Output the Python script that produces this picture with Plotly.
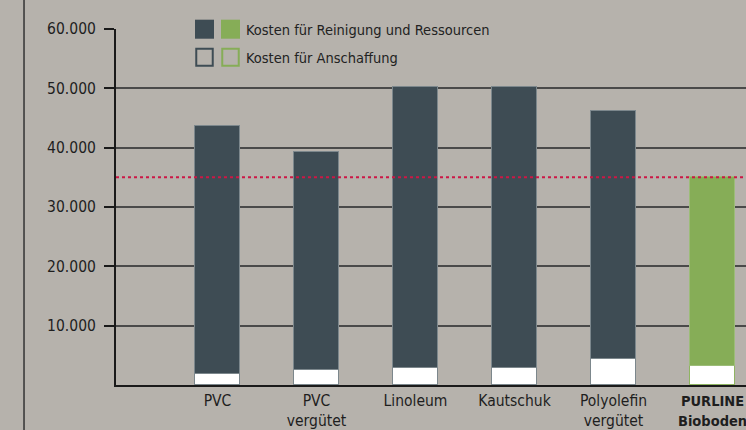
import plotly.graph_objects as go

categories = ["PVC", "PVC<br>vergütet", "Linoleum", "Kautschuk", "Polyolefin<br>vergütet",
              "<span style='font-size:14.5px'><b>PURLINE</b></span><br><span style='font-size:14.5px'><b>Bioboden</b></span>"]
anschaffung = [1900, 2500, 2850, 2900, 4300, 3250]
gesamt = [43700, 39300, 50300, 50300, 46100, 35000]
reinigung = [g - a for g, a in zip(gesamt, anschaffung)]
ytick_vals = [10000, 20000, 30000, 40000, 50000, 60000]
ytick_text = ["10.000", "20.000", "30.000", "40.000", "50.000", "60.000"]
grid_vals = [10000, 20000, 30000, 40000, 50000]
referenz = 35000

BG = "#b6b2ac"
DARK = "#3e4c54"
GREEN = "#86ad57"
FONT = "DejaVu Sans Condensed, Liberation Sans Narrow, sans-serif"

top_colors = [DARK] * 5 + [GREEN]
top_lines = ["#7c878c"] * 5 + ["#9cbc78"]
bot_lines = ["#7c878c"] * 5 + ["#8fb462"]

x = list(range(len(categories)))

fig = go.Figure()
fig.add_trace(go.Bar(
    x=x, y=anschaffung, width=0.46,
    marker=dict(color="white", line=dict(color=bot_lines, width=1.2)),
    showlegend=False,
))
fig.add_trace(go.Bar(
    x=x, y=reinigung, width=0.46,
    marker=dict(color=top_colors, line=dict(color=top_lines, width=1)),
    showlegend=False,
))

fig.add_shape(type="line", xref="paper", x0=0, x1=1, yref="y", y0=referenz, y1=referenz,
              line=dict(color="#cc1745", width=2, dash="dot"), layer="above")
# left page rule
fig.add_shape(type="line", xref="paper", x0=-0.146, x1=-0.146, yref="paper", y0=-0.13, y1=1.09,
              line=dict(color="#333333", width=1.5))

# legend swatches
lx0 = (195 - 116) / 630
sw = 19 / 630
gx0 = (221 - 116) / 630
def py(px):
    return (385 - px) / 355.7
fig.add_shape(type="rect", xref="paper", yref="paper", x0=lx0, x1=lx0 + sw, y0=py(39), y1=py(20),
              fillcolor=DARK, line=dict(width=0))
fig.add_shape(type="rect", xref="paper", yref="paper", x0=gx0, x1=gx0 + sw, y0=py(39), y1=py(20),
              fillcolor=GREEN, line=dict(width=0))
fig.add_shape(type="rect", xref="paper", yref="paper", x0=lx0 + 0.002, x1=lx0 + sw - 0.002, y0=py(66), y1=py(49),
              fillcolor=BG, line=dict(color=DARK, width=2))
fig.add_shape(type="rect", xref="paper", yref="paper", x0=gx0 + 0.002, x1=gx0 + sw - 0.002, y0=py(66), y1=py(49),
              fillcolor=BG, line=dict(color=GREEN, width=2))
fig.add_annotation(xref="paper", yref="paper", x=(244 - 116) / 630, y=py(30), text="Kosten für Reinigung und Ressourcen",
                   showarrow=False, xanchor="left", yanchor="middle",
                   font=dict(family=FONT, size=14.5, color="#222222"))
fig.add_annotation(xref="paper", yref="paper", x=(244 - 116) / 630, y=py(58), text="Kosten für Anschaffung",
                   showarrow=False, xanchor="left", yanchor="middle",
                   font=dict(family=FONT, size=14.5, color="#222222"))

fig.update_layout(
    width=746, height=430,
    margin=dict(l=116, r=0, t=29.3, b=45, pad=0, autoexpand=False),
    paper_bgcolor=BG, plot_bgcolor=BG,
    barmode="stack", bargap=0,
    font=dict(family=FONT, size=16, color="#1e1e1e"),
    xaxis=dict(
        tickmode="array", tickvals=x, ticktext=categories, automargin=False,
        ticklabeloverflow="allow",
        range=[-1.025, 5.338], showgrid=False, zeroline=False,
        showline=True, linecolor="#1a1a1a", linewidth=2,
        ticks="", tickfont=dict(family=FONT, size=15.5, color="#1e1e1e"),
    ),
    yaxis=dict(
        range=[0, 60000], tickmode="array", tickvals=ytick_vals, ticktext=ytick_text, automargin=False,
        showgrid=False, zeroline=False,
        showline=True, linecolor="#1a1a1a", linewidth=2,
        ticks="outside", ticklen=10, tickwidth=2, tickcolor="#1a1a1a",
        tickfont=dict(family=FONT, size=15.5, color="#1e1e1e"), ticklabelstandoff=5,
        minor=dict(tickmode="array", tickvals=grid_vals, showgrid=True, gridcolor="#4a4a4a", gridwidth=1.6, ticks=""),
    ),
)

fig.write_html("out.html", config={"displayModeBar": False},
               post_script="document.body.style.margin='0';document.body.style.overflow='hidden';")
